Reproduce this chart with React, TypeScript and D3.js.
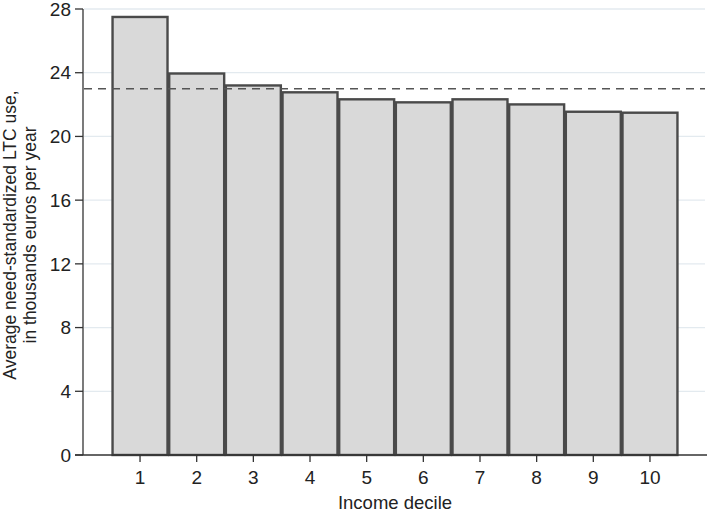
import React from 'react';
import * as d3 from 'd3';

const deciles = ['1', '2', '3', '4', '5', '6', '7', '8', '9', '10'];
const ltcUse = [27.5, 23.95, 23.2, 22.77, 22.33, 22.14, 22.33, 22.01, 21.55, 21.49];
const meanUse = 23.0;
const yTicks = [0, 4, 8, 12, 16, 20, 24, 28];

const W = 709;
const H = 514;

export default function App() {
  const left = 83;
  const right = 705;
  const top = 9;
  const bottom = 455;

  const x = d3.scaleBand<string>()
    .domain(deciles)
    .range([111.7, 678.3])
    .paddingInner(0.03)
    .paddingOuter(0.015);
  const y = d3.scaleLinear().domain([0, 28]).range([bottom, top]);

  const font = 'Liberation Sans, Arial, sans-serif';

  return (
    <svg width={W} height={H} style={{position: 'absolute', left: 0, top: 0, background: '#fff'}}>
      {/* gridlines */}
      {yTicks.filter(t => t > 0).map(t => (
        <line key={t} x1={left + 1} x2={right} y1={y(t)} y2={y(t)} stroke="#e3eaef" strokeWidth={1.3} />
      ))}

      {/* bars */}
      {ltcUse.map((v, i) => (
        <rect key={i}
          x={x(deciles[i])!}
          y={y(v)}
          width={x.bandwidth()}
          height={y(0) - y(v)}
          fill="#d9d9d9"
          stroke="#4a4a4a"
          strokeWidth={2.4} />
      ))}

      {/* mean line */}
      <line x1={left + 1} x2={right} y1={y(meanUse)} y2={y(meanUse)}
        stroke="#555" strokeWidth={1.5} strokeDasharray="8,6" />

      {/* axes */}
      <line x1={left} x2={left} y1={top} y2={bottom} stroke="#333" strokeWidth={1.3} />
      <line x1={left - 8} x2={W - 2} y1={bottom} y2={bottom} stroke="#333" strokeWidth={1.5} />
      {yTicks.map(t => (
        <g key={t}>
          <line x1={left - 8} x2={left} y1={y(t)} y2={y(t)} stroke="#333" strokeWidth={1.3} />
          <text x={left - 12} y={y(t)} dy="0.35em" textAnchor="end" fontSize={19}
            fontFamily={font} fill="#222">{t}</text>
        </g>
      ))}
      {deciles.map(d => {
        const cx = x(d)! + x.bandwidth() / 2;
        return (
          <g key={d}>
            <line x1={cx} x2={cx} y1={bottom} y2={bottom + 7} stroke="#333" strokeWidth={1.3} />
            <text x={cx} y={484} textAnchor="middle" fontSize={19} fontFamily={font} fill="#222">{d}</text>
          </g>
        );
      })}

      <text x={395} y={509} textAnchor="middle" fontSize={18.5} fontFamily={font} fill="#222">Income decile</text>
      <text transform="translate(16,235) rotate(-90)" textAnchor="middle" fontSize={17.5} fontFamily={font} fill="#222">
        <tspan x={0} dy={0}>Average need-standardized LTC use,</tspan>
        <tspan x={0} dy={19.5}>in thousands euros per year</tspan>
      </text>
    </svg>
  );
}
